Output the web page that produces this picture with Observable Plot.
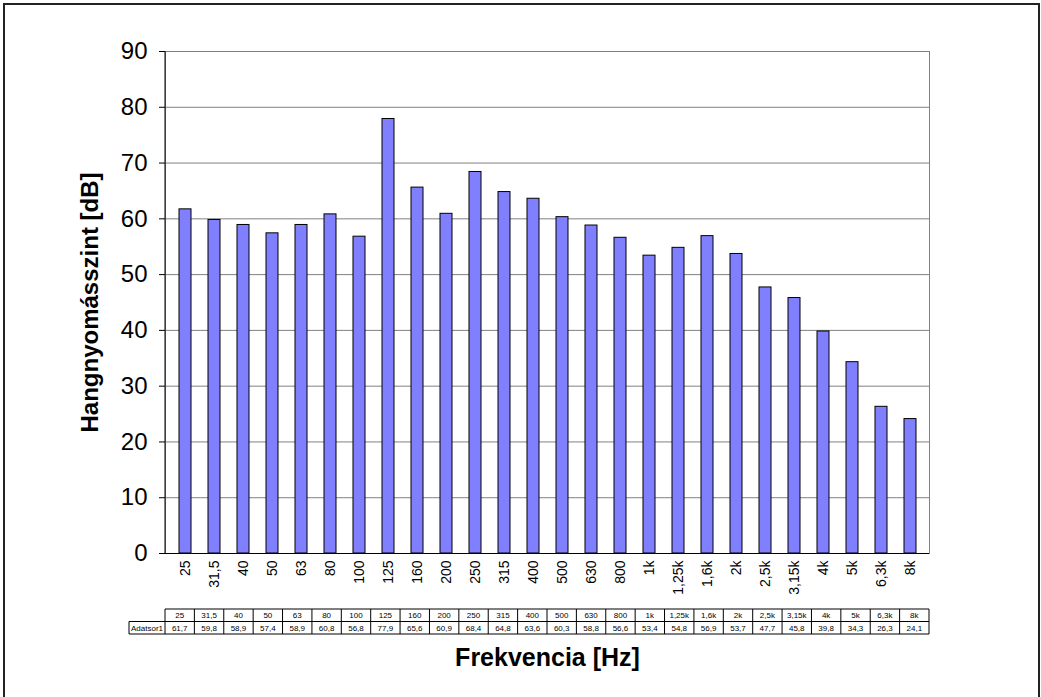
<!DOCTYPE html>
<html>
<head>
<meta charset="utf-8">
<script src="https://cdn.jsdelivr.net/npm/d3@7"></script>
<script src="https://cdn.jsdelivr.net/npm/@observablehq/plot@0.6"></script>
<style>
  body { margin: 0; background: #fff; font-family: "Liberation Sans", Arial, sans-serif; }
  #wrap { position: relative; width: 1041px; height: 697px; }
  #border { position: absolute; left: 3px; top: 3px; width: 1033px; height: 700px;
            border: 2px solid #222; border-bottom: none; pointer-events: none; }
  #wrap svg { position: absolute; left: 0; top: 0; }
</style>
</head>
<body>
<div id="wrap"><div id="border"></div></div>
<script>
const categories = ["25","31,5","40","50","63","80","100","125","160","200","250","315","400","500","630","800","1k","1,25k","1,6k","2k","2,5k","3,15k","4k","5k","6,3k","8k"];
const values = [61.7,59.8,58.9,57.4,58.9,60.8,56.8,77.9,65.6,60.9,68.4,64.8,63.6,60.3,58.8,56.6,53.4,54.8,56.9,53.7,47.7,45.8,39.8,34.3,26.3,24.1];
const seriesName = "Adatsor1";
const yTicks = [0,10,20,30,40,50,60,70,80,90];
const yTitle = "Hangnyomásszint [dB]";
const xTitle = "Frekvencia [Hz]";

const data = categories.map((c, i) => ({cat: c, v: values[i]}));
const fmt = v => v.toFixed(1).replace(".", ",");

const chart = Plot.plot({
  width: 1041,
  height: 697,
  marginLeft: 165,
  marginRight: 112,
  marginTop: 51,
  marginBottom: 144,
  style: {fontFamily: "'Liberation Sans', Arial, sans-serif", background: "transparent", color: "#000"},
  x: {domain: categories, paddingInner: 0.6, paddingOuter: 0.3, align: 0.5, label: null},
  y: {domain: [0, 90], label: null},
  marks: [
    Plot.gridY(yTicks, {stroke: "#808080", strokeOpacity: 1}),
    Plot.frame({stroke: "#808080"}),
    Plot.barY(data, {x: "cat", y: "v", fill: "#8080ff", stroke: "#000", strokeWidth: 1}),
    Plot.ruleY([0], {stroke: "#000"}),
    Plot.axisY(yTicks, {tickSize: 6, tickPadding: 12, fontSize: 24, label: null, stroke: "#000"}),
    Plot.axisX({tickRotate: -90, tickSize: 0, tickPadding: 7, fontSize: 14, label: null}),
    Plot.text([yTitle], {frameAnchor: "left", textAnchor: "middle", rotate: -90, dx: -75, fontSize: 24, fontWeight: "bold", fill: "#000"}),
    Plot.text([xTitle], {frameAnchor: "bottom", textAnchor: "middle", dy: 112, fontSize: 25, fontWeight: "bold", fill: "#000"})
  ]
});

document.getElementById("wrap").prepend(chart);

// Data table and left axis line, positioned through Plot's own scales
const sx = chart.scale("x");
const sy = chart.scale("y");
const xb = d3.scaleBand().domain(sx.domain).range(sx.range)
  .paddingInner(sx.paddingInner).paddingOuter(sx.paddingOuter).align(sx.align ?? 0.5);
const ys = d3.scaleLinear(sy.domain, sy.range);
const step = xb.step();
const cellLeft = c => xb(c) - (step - xb.bandwidth()) / 2;
const y0 = ys(0);
const yTop = ys(90);
const svg = d3.select(chart);
const g = svg.append("g").attr("text-anchor", "middle");

g.append("line").attr("x1", sx.range[0]).attr("x2", sx.range[0])
  .attr("y1", yTop).attr("y2", y0).attr("stroke", "#000");

const rowH = 12.5;
const t0 = y0 + 56;
const xL = sx.range[0], xR = xL + step * categories.length;
const labelLeft = 129;
function line(x1, y1, x2, y2) {
  g.append("line").attr("x1", x1).attr("y1", y1).attr("x2", x2).attr("y2", y2)
    .attr("stroke", "#000").attr("stroke-width", 1);
}
line(xL, t0, xR, t0);
line(labelLeft, t0 + rowH, xR, t0 + rowH);
line(labelLeft, t0 + 2 * rowH, xR, t0 + 2 * rowH);
line(labelLeft, t0 + rowH, labelLeft, t0 + 2 * rowH);
categories.forEach(c => { line(cellLeft(c), t0, cellLeft(c), t0 + 2 * rowH); });
line(xR, t0, xR, t0 + 2 * rowH);

const tf = "'Liberation Sans', Arial, sans-serif";
data.forEach(d => {
  const cx = cellLeft(d.cat) + step / 2;
  g.append("text").attr("x", cx).attr("y", t0 + rowH / 2).attr("dy", "0.35em")
    .attr("text-anchor", "middle").attr("font-size", 8).attr("font-family", tf).text(d.cat);
  g.append("text").attr("x", cx).attr("y", t0 + 1.5 * rowH).attr("dy", "0.35em")
    .attr("text-anchor", "middle").attr("font-size", 8).attr("font-family", tf).text(fmt(d.v));
});
g.append("text").attr("x", labelLeft + 2).attr("y", t0 + 1.5 * rowH).attr("dy", "0.35em")
  .attr("text-anchor", "start").attr("font-size", 8).attr("font-family", tf).text(seriesName);
</script>
</body>
</html>
